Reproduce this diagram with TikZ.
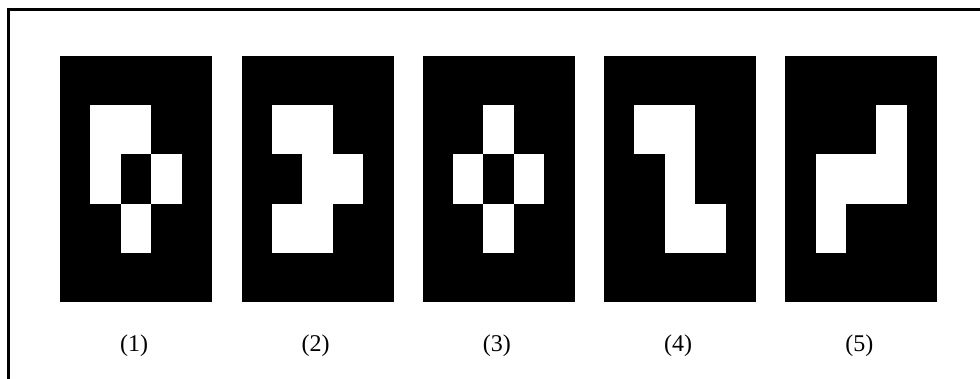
\documentclass[tikz,border=0pt]{standalone}
\usepackage{fontspec}
\setmainfont{Liberation Serif}
\usetikzlibrary{calc}
\begin{document}
\begin{tikzpicture}[x=1pt,y=-1pt,
  panel/.style={draw=none,fill=black,minimum width=152pt,minimum height=246pt,inner sep=0pt,anchor=north west},
  lbl/.style={font=\fontsize{24}{27}\selectfont,inner sep=0pt},
  frame/.style={line width=3pt,line cap=rect}]
\useasboundingbox (0,0) rectangle (980,378);
\draw[frame] (8,378) -- (8,9.5) -- (980,9.5);
\def\cw{30.4}\def\ch{49.2}
\foreach \i/\cells in {
  1/{1/1,2/1,1/2,3/2,2/3},
  2/{1/1,2/1,2/2,3/2,1/3,2/3},
  3/{2/1,1/2,3/2,2/3},
  4/{1/1,2/1,2/2,2/3,3/3},
  5/{3/1,1/2,2/2,3/2,1/3}}{
  \pgfmathsetmacro\px{60+(\i-1)*181.3}
  \node[panel] (p\i) at (\px,56) {};
  \foreach \c/\r in \cells {
    \fill[white] ($(p\i.north west)+(\c*\cw,\r*\ch)$) rectangle ++(\cw,\ch);
  }
  \node[lbl] (l\i) at ($(p\i.south)+(-2,43)$) {(\i)};
}
\end{tikzpicture}
\end{document}
